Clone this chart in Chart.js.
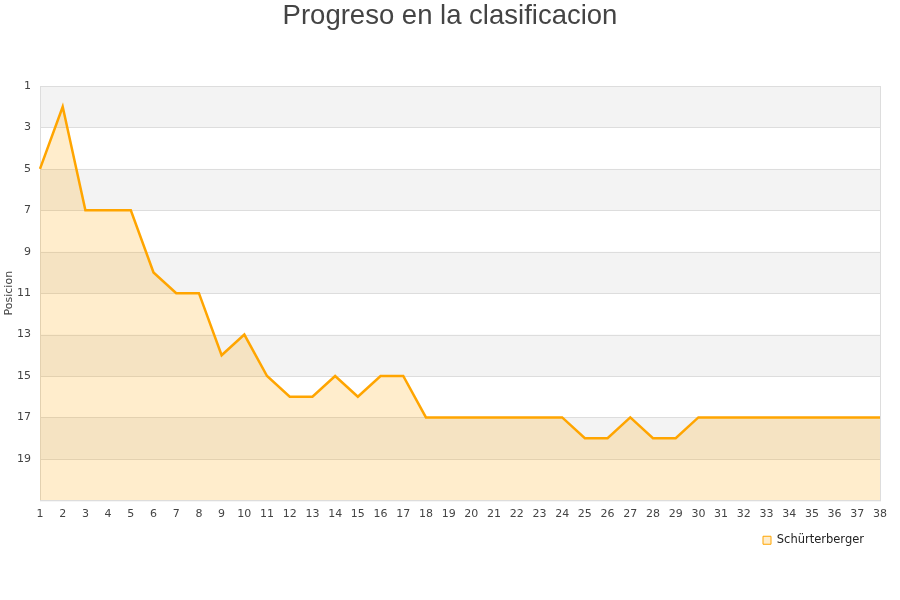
<!DOCTYPE html>
<html lang="es">
<head>
    <meta charset="UTF-8">
    <title>Progreso en la clasificacion</title>
    <script src="https://cdn.jsdelivr.net/npm/chart.js"></script>
    <style>
        body { margin: 0; background: #fff; }
        #wrap { width: 900px; height: 600px; }
    </style>
</head>
<body>
<div id="wrap"><canvas id="chartCanvas" width="900" height="600"></canvas></div>

<script>
    // jornadas y posiciones
    const jornadas = Array.from({ length: 38 }, (_, i) => String(i + 1));
    const posiciones = [5, 2, 7, 7, 7, 10, 11, 11, 14, 13,
                        15, 16, 16, 15, 16, 15, 15, 17, 17, 17,
                        17, 17, 17, 17, 18, 18, 17, 18, 18, 17,
                        17, 17, 17, 17, 17, 17, 17, 17];
    const equipo = 'Schürterberger';
    const titulo = 'Progreso en la clasificacion';
    const yTicks = [1, 3, 5, 7, 9, 11, 13, 15, 17, 19];

    // franjas alternas gris/blanco detras de la grafica
    const bandas = {
        id: 'bandas',
        afterLayout(chart) {
            // la leyenda queda algo mas a la izquierda en el original
            chart.legend.left -= 9;
            chart.legend.right -= 9;
        },
        beforeDatasetsDraw(chart) {
            const { ctx, chartArea: a, scales: { y } } = chart;
            ctx.save();
            for (let v = 1; v < 21; v += 4) {
                const y1 = y.getPixelForValue(v);
                const y2 = y.getPixelForValue(v + 2);
                ctx.fillStyle = '#f3f3f3';
                ctx.fillRect(a.left, y1, a.right - a.left, y2 - y1);
            }
            // lineas de la rejilla encima de las franjas
            ctx.strokeStyle = '#dddddd';
            ctx.lineWidth = 1;
            for (let v = 1; v <= 21; v += 2) {
                const py = Math.round(y.getPixelForValue(v)) + 0.5;
                ctx.beginPath();
                ctx.moveTo(a.left, py);
                ctx.lineTo(a.right, py);
                ctx.stroke();
            }
            ctx.strokeRect(a.left + 0.5, a.top + 0.5, a.right - a.left, a.bottom - a.top);
            ctx.restore();
        },
        afterDraw(chart) {
            const c = chart.ctx;
            c.save();
            c.fillStyle = '#444';
            c.font = '27.5px "Liberation Sans"';
            c.textAlign = 'center';
            c.textBaseline = 'middle';
            c.fillText(titulo, 450, 16);
            c.restore();
        }
    };

    const ctx = document.getElementById('chartCanvas').getContext('2d');
    new Chart(ctx, {
        type: 'line',
        data: {
            labels: jornadas,
            datasets: [{
                label: equipo,
                data: posiciones,
                borderColor: '#FFA500',
                backgroundColor: 'rgba(255, 165, 0, 0.2)',
                borderWidth: 2.5,
                pointRadius: 0,
                tension: 0,
                fill: { value: 21 }
            }]
        },
        options: {
            responsive: false,
            animation: false,
            layout: { padding: { top: 86, right: 20, bottom: 44, left: 0 } },
            plugins: {
                title: { display: false },
                legend: {
                    position: 'bottom',
                    align: 'end',
                    labels: {
                        boxWidth: 8,
                        boxHeight: 8,
                        padding: 7,
                        color: '#222',
                        font: { family: 'DejaVu Sans', size: 11.5 },
                        generateLabels(chart) {
                            const items = Chart.defaults.plugins.legend.labels.generateLabels(chart);
                            items.forEach(it => { it.lineWidth = 1; });
                            return items;
                        }
                    }
                },
                tooltip: { enabled: false }
            },
            scales: {
                x: {
                    offset: false,
                    grid: { display: false, tickLength: 0 },
                    border: { color: '#dddddd' },
                    ticks: {
                        color: '#444',
                        font: { family: 'DejaVu Sans', size: 11 },
                        padding: 7,
                        maxRotation: 0,
                        autoSkip: false
                    }
                },
                y: {
                    reverse: true,
                    min: 1,
                    max: 21,
                    afterBuildTicks(scale) {
                        scale.ticks = yTicks.concat([21]).map(v => ({ value: v }));
                    },
                    afterFit(scale) { scale.width = 40; },
                    grid: { display: false, tickLength: 0 },
                    border: { color: '#dddddd' },
                    title: {
                        display: true,
                        text: 'Posicion',
                        color: '#444',
                        font: { family: 'DejaVu Sans', size: 11 },
                        padding: { top: 3, bottom: 0 }
                    },
                    ticks: {
                        color: '#444',
                        font: { family: 'DejaVu Sans', size: 11 },
                        padding: 9,
                        callback: v => (v === 21 ? '' : v)
                    }
                }
            }
        },
        plugins: [bandas]
    });
</script>
</body>
</html>
